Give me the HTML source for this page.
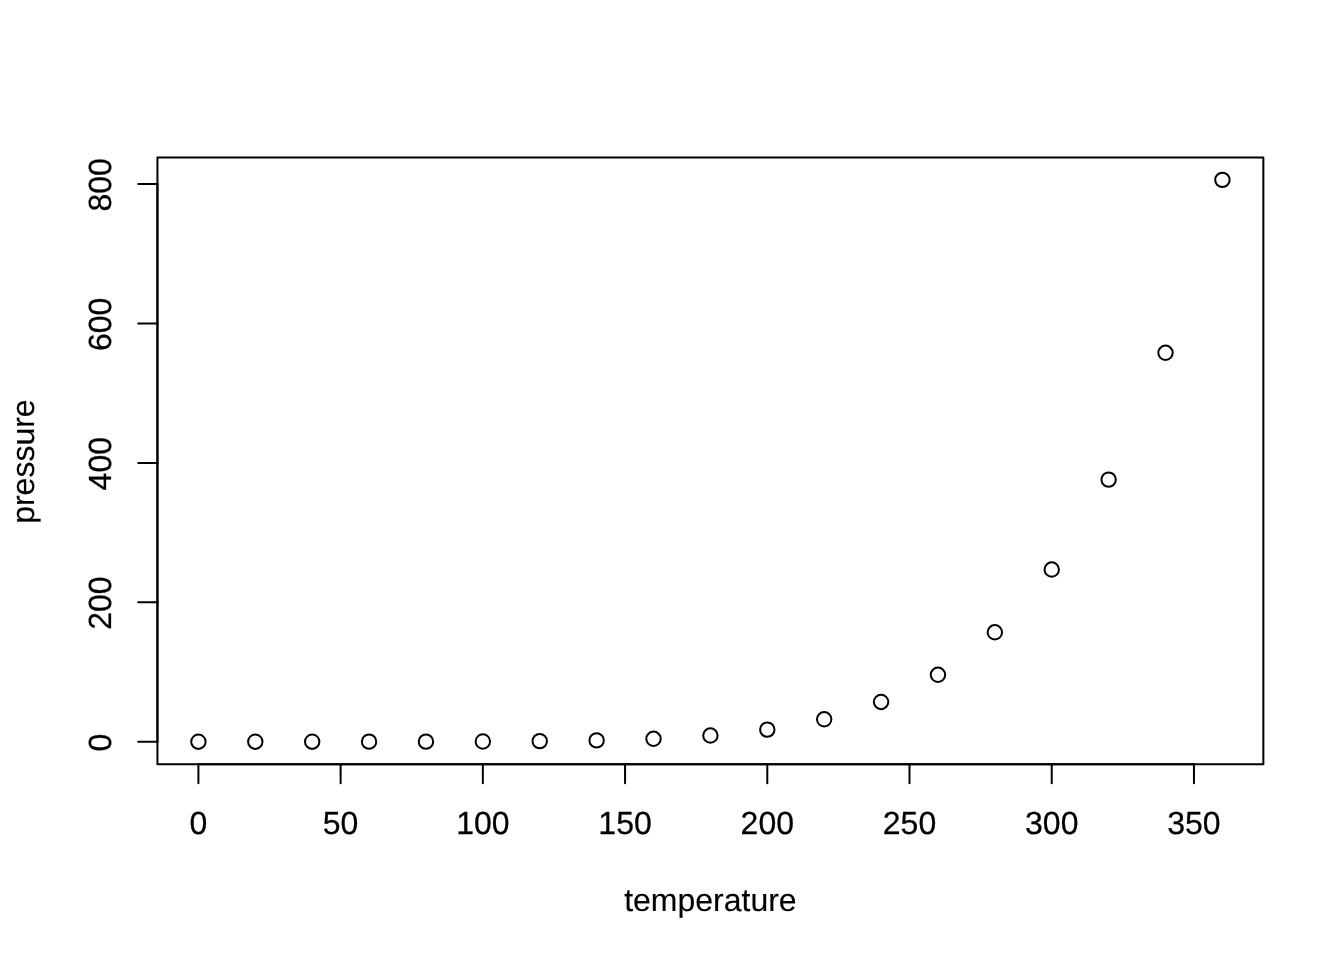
<!DOCTYPE html>
<html lang="en">
<head>
<meta charset="utf-8">
<title>pressure vs temperature</title>
<style>
html,body{margin:0;padding:0;background:#fff;}
body{width:1344px;height:960px;overflow:hidden;}
svg{display:block;}
text{font-family:"Liberation Sans",Arial,Helvetica,sans-serif;font-size:32px;fill:#000;text-rendering:geometricPrecision;stroke:#000;stroke-width:0.25px;}
.ttl{stroke-width:0.12px;}
.ln{stroke:#000;stroke-width:2;stroke-linecap:round;stroke-linejoin:round;fill:none;}
</style>
</head>
<body>
<svg width="1344" height="960" viewBox="0 0 1344 960">
<rect width="1344" height="960" fill="#ffffff"/>
<g class="ln">
<circle cx="198.40" cy="741.69" r="7.2"/>
<circle cx="255.29" cy="741.69" r="7.2"/>
<circle cx="312.18" cy="741.68" r="7.2"/>
<circle cx="369.07" cy="741.67" r="7.2"/>
<circle cx="425.96" cy="741.63" r="7.2"/>
<circle cx="482.84" cy="741.50" r="7.2"/>
<circle cx="539.73" cy="741.17" r="7.2"/>
<circle cx="596.62" cy="740.40" r="7.2"/>
<circle cx="653.51" cy="738.76" r="7.2"/>
<circle cx="710.40" cy="735.56" r="7.2"/>
<circle cx="767.29" cy="729.63" r="7.2"/>
<circle cx="824.18" cy="719.32" r="7.2"/>
<circle cx="881.07" cy="701.96" r="7.2"/>
<circle cx="937.96" cy="674.78" r="7.2"/>
<circle cx="994.84" cy="632.26" r="7.2"/>
<circle cx="1051.73" cy="569.53" r="7.2"/>
<circle cx="1108.62" cy="479.62" r="7.2"/>
<circle cx="1165.51" cy="352.77" r="7.2"/>
<circle cx="1222.40" cy="179.91" r="7.2"/>
</g>
<g class="ln">
<path d="M198.40 764.16 H1193.96"/>
<path d="M198.40 764.16 V783.36"/>
<path d="M340.62 764.16 V783.36"/>
<path d="M482.84 764.16 V783.36"/>
<path d="M625.07 764.16 V783.36"/>
<path d="M767.29 764.16 V783.36"/>
<path d="M909.51 764.16 V783.36"/>
<path d="M1051.73 764.16 V783.36"/>
<path d="M1193.96 764.16 V783.36"/>
</g>
<g text-anchor="middle">
<text x="198.40" y="833.98">0</text>
<text x="340.62" y="833.98">50</text>
<text x="482.84" y="833.98">100</text>
<text x="625.07" y="833.98">150</text>
<text x="767.29" y="833.98">200</text>
<text x="909.51" y="833.98">250</text>
<text x="1051.73" y="833.98">300</text>
<text x="1193.96" y="833.98">350</text>
</g>
<g class="ln">
<path d="M157.44 741.69 V184.09"/>
<path d="M157.44 741.69 H138.24"/>
<path d="M157.44 602.29 H138.24"/>
<path d="M157.44 462.89 H138.24"/>
<path d="M157.44 323.49 H138.24"/>
<path d="M157.44 184.09 H138.24"/>
</g>
<g text-anchor="middle">
<text transform="translate(111.06 742.49) rotate(-90)">0</text>
<text transform="translate(111.06 603.09) rotate(-90)">200</text>
<text transform="translate(111.06 463.69) rotate(-90)">400</text>
<text transform="translate(111.06 324.29) rotate(-90)">600</text>
<text transform="translate(111.06 184.89) rotate(-90)">800</text>
</g>
<path class="ln" d="M157.44 764.16 H1263.36 V157.44 H157.44 Z"/>
<text class="ttl" text-anchor="middle" x="710.40" y="910.53">temperature</text>
<text class="ttl" text-anchor="middle" transform="translate(34.26 461.60) rotate(-90)">pressure</text>
</svg>
</body>
</html>
